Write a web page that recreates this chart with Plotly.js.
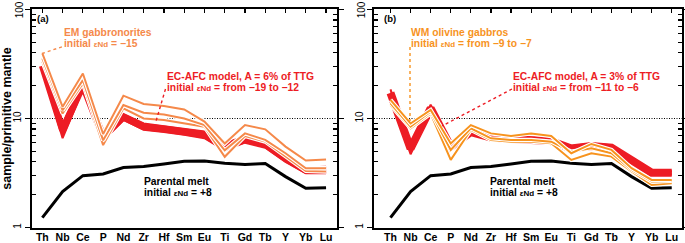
<!DOCTYPE html>
<html>
<head>
<meta charset="utf-8">
<script src="https://cdn.plot.ly/plotly-3.0.1.min.js"></script>
<style>
html,body{margin:0;padding:0;background:#fff;}
#chart{width:685px;height:243px;}
.toplabel{position:absolute;width:30px;height:12px;line-height:12px;text-align:center;
  font-family:'Liberation Sans',Arial,sans-serif;font-size:10px;color:#000;transform:rotate(-90deg);
  transform-origin:50% 50%;z-index:20;pointer-events:none;}
</style>
</head>
<body>
<div id="chart"></div>
<script>
// ---------- data ----------
const elements = ['Th','Nb','Ce','P','Nd','Zr','Hf','Sm','Eu','Ti','Gd','Tb','Y','Yb','Lu'];
const parentalMelt = [1.23, 2.14, 2.99, 3.1, 3.55, 3.62, 3.83, 4.05, 4.08, 3.88, 3.78, 3.86, 2.93, 2.29, 2.32];

// panel (a): EC-AFC model envelope (upper, centre, lower) and EM gabbronorites
const modelA_upper  = [33, 9.0, 22, 7.3, 11.0, 9.0, 8.5, 8.1, 7.6, 6.0, 6.8, 6.2, 4.6, 3.55, 3.6];
const modelA_center = [30.5, 7.8, 20.2, 6.8, 10.3, 8.4, 8.0, 7.6, 7.1, 5.5, 6.4, 5.8, 4.3, 3.35, 3.37];
const modelA_lower  = [28, 6.6, 18.5, 6.3, 9.7, 7.9, 7.5, 7.1, 6.6, 5.1, 6.0, 5.4, 4.0, 3.15, 3.15];
const emGabbro1 = [39.5, 12.8, 25.9, 7.2, 16.2, 13.6, 13.0, 12.1, 9.36, 5.9, 8.72, 7.95, 5.52, 4.12, 4.2];
const emGabbro2 = [35.6, 11.9, 22.5, 6.3, 13.3, 11.3, 10.9, 10.0, 8.7, 5.1, 7.3, 6.36, 4.8, 3.5, 3.5];
const emGabbro3 = [33.2, 11.1, 21.0, 5.7, 12.4, 10.0, 9.7, 9.03, 8.42, 4.45, 6.9, 6.13, 4.47, 3.3, 3.26];

// panel (b): EC-AFC model envelope and WM olivine gabbros
const modelB_upper  = [18.5, 5.9, 13.4, 5.8, 7.8, 7.0, 6.8, 6.6, 6.45, 5.6, 5.9, 5.7, 4.35, 3.3, 3.3];
const modelB_center = [17.2, 5.3, 12.4, 5.5, 7.5, 6.7, 6.5, 6.4, 6.2, 5.3, 5.6, 5.4, 4.15, 3.18, 3.18];
const modelB_lower  = [16.0, 4.7, 11.5, 5.2, 7.2, 6.4, 6.2, 6.15, 5.95, 5.05, 5.35, 5.15, 3.95, 3.05, 3.05];
const wmGabbro1 = [14.8, 9.0, 12.0, 5.9, 8.7, 7.3, 6.9, 7.3, 6.9, 4.8, 5.84, 5.15, 3.5, 2.73, 2.73];
const wmGabbro2 = [13.8, 8.4, 11.6, 5.15, 8.13, 6.58, 6.36, 6.36, 6.13, 4.97, 5.33, 4.8, 3.38, 2.64, 2.67];
const wmGabbro3 = [13.3, 8.13, 11.1, 4.17, 7.85, 6.36, 6.13, 6.13, 5.92, 4.17, 4.8, 4.47, 3.26, 2.46, 2.55];

const yTickVals = [1, 10, 100];
const yTickText = ['1', '10', ''];   // the top "100" label is placed as an overlay text
const yTopLabel = '100';
const yMinorVals = [2,3,4,5,6,7,8,9,20,30,40,50,60,70,80,90];

// ---------- styling ----------
const FONT = 'Liberation Sans, Arial, sans-serif';
const RED = '#ed1c24';
const ORANGE_A = '#f5894a';
const ORANGE_B = '#f7931e';
const W = 685, H = 243;
const idx = elements.map((_, i) => i);

function line(y, xa, color, width){
  return {x: idx, y: y, xaxis: xa, yaxis: 'y', mode: 'lines', line: {color: color, width: width},
          hoverinfo: 'skip', showlegend: false};
}
function cased(y, xa, color){
  return [line(y, xa, '#ffffff', 4.2), line(y, xa, color, 2)];
}
function band(lo, mid, hi, xa, w){
  return [
    {x: idx, y: lo, xaxis: xa, yaxis: 'y', mode: 'lines', line: {color: RED, width: 2}, hoverinfo: 'skip', showlegend: false},
    {x: idx, y: hi, xaxis: xa, yaxis: 'y', mode: 'lines', line: {color: RED, width: 2}, fill: 'tonexty', fillcolor: RED, hoverinfo: 'skip', showlegend: false},
    line(mid, xa, RED, w)
  ];
}
function yax(anchor, showTitle){
  const a = {type: 'log', range: [-0.002, 2.002], domain: [15.3/H, 1 - 9.3/H], anchor: anchor,
    tickvals: yTickVals, ticktext: yTickText, tickangle: -90, ticklabeloverflow: 'allow',
    ticks: 'outside', ticklen: 5, tickwidth: 1.5, tickcolor: '#000',
    minor: {tickvals: yMinorVals, ticks: 'inside', ticklen: 4, tickwidth: 1.2, tickcolor: '#000'},
    showline: true, linewidth: 2, linecolor: '#000', mirror: 'ticks',
    showgrid: false, zeroline: false, fixedrange: true,
    tickfont: {family: FONT, size: 10, color: '#000'}};
  if (showTitle) {
    a.title = {text: 'sample/primitive mantle', font: {family: FONT, size: 12.5, color: '#000', weight: 'bold'}, standoff: 5};
  }
  return a;
}
function xax(domain, range, anchor){
  return {domain: domain, range: range, anchor: anchor, tickvals: idx, ticktext: elements,
    ticks: '', showline: true, linewidth: 2, linecolor: '#000', mirror: true,
    showgrid: false, zeroline: false, fixedrange: true, ticklabelstandoff: -1,
    tickfont: {family: FONT, size: 10.5, color: '#000', weight: 'bold'}};
}
function xtop(over, domain, range){
  return {overlaying: over, side: 'top', domain: domain, range: range, anchor: 'y', tickvals: idx,
    ticks: 'inside', ticklen: 4, tickwidth: 1.2, tickcolor: '#000', showticklabels: false,
    showline: false, showgrid: false, zeroline: false, fixedrange: true};
}

const domA = [32/W, 337/W], rangeA = [-0.51, 14.54];
const domB = [374/W, 682/W], rangeB = [-0.82, 14.51];

const traces = [].concat(
  // panel a
  [line(parentalMelt, 'x', '#000', 3)],
  band(modelA_lower, modelA_center, modelA_upper, 'x', 7),
  cased(emGabbro3, 'x', ORANGE_A),
  cased(emGabbro2, 'x', ORANGE_A),
  cased(emGabbro1, 'x', ORANGE_A),
  // panel b
  [line(parentalMelt, 'x2', '#000', 3)],
  band(modelB_lower, modelB_center, modelB_upper, 'x2', 8),
  cased(wmGabbro3, 'x2', ORANGE_B),
  cased(wmGabbro2, 'x2', ORANGE_B),
  cased(wmGabbro1, 'x2', ORANGE_B),
  // dummy traces for top tick axes
  [{x: [0], y: [10], xaxis: 'x3', yaxis: 'y', mode: 'markers', marker: {opacity: 0}, hoverinfo: 'skip', showlegend: false},
   {x: [0], y: [10], xaxis: 'x4', yaxis: 'y', mode: 'markers', marker: {opacity: 0}, hoverinfo: 'skip', showlegend: false}]
);
// panel b traces need their own y axis
traces.forEach(t => { if (t.xaxis === 'x2' || t.xaxis === 'x4') t.yaxis = 'y2'; });

const eps = '<span style="font-size:8px">εNd</span>';
function ann(text, px, py, color, size){
  return {text: text, x: px / W, y: 1 - py / H, xref: 'paper', yref: 'paper', xanchor: 'left', yanchor: 'middle',
    showarrow: false, font: {family: FONT, size: size || 10.3, color: color, weight: 'bold'}};
}
function seg(x0, y0, x1, y1, color){
  return {type: 'line', xref: 'paper', yref: 'paper', x0: x0 / W, y0: 1 - y0 / H, x1: x1 / W, y1: 1 - y1 / H,
    line: {color: color, width: 1.4, dash: 'dot'}};
}
const dotted = {color: '#000', width: 1, dash: '1px,1.5px'};

const layout = {
  width: W, height: H, margin: {l: 0, r: 0, t: 0, b: 0},
  paper_bgcolor: '#fff', plot_bgcolor: '#fff', showlegend: false,
  xaxis: xax(domA, rangeA, 'y'),
  xaxis2: xax(domB, rangeB, 'y2'),
  xaxis3: xtop('x', domA, rangeA),
  xaxis4: Object.assign(xtop('x2', domB, rangeB), {anchor: 'y2'}),
  yaxis: yax('x', true),
  yaxis2: yax('x2', false),
  shapes: [
    {type: 'line', xref: 'x domain', yref: 'y', x0: 0, x1: 1, y0: 10, y1: 10, line: dotted, layer: 'below'},
    {type: 'line', xref: 'x2 domain', yref: 'y2', x0: 0, x1: 1, y0: 10, y1: 10, line: dotted, layer: 'below'},
    seg(42, 53.5, 63, 46.5, ORANGE_A),
    seg(165.5, 89, 155.5, 123, RED),
    seg(410, 47, 410, 121, ORANGE_B),
    seg(512, 89, 442, 126, RED)
  ],
  annotations: [
    ann('(a)', 35, 18.5, '#000', 9.5),
    ann('EM gabbronorites', 62, 32, ORANGE_A),
    ann('initial ' + eps + ' = −15', 62, 43.5, ORANGE_A),
    ann('EC-AFC model, A = 6% of TTG', 165, 76, RED),
    ann('initial ' + eps + ' = from −19 to −12', 165, 87.5, RED),
    ann('Parental melt', 142, 181, '#000'),
    ann('initial ' + eps + ' = +8', 142, 192.5, '#000'),
    ann('(b)', 382, 18.5, '#000', 9.5),
    ann('WM olivine gabbros', 409, 32, ORANGE_B),
    ann('initial ' + eps + ' = from −9 to −7', 409, 43.5, ORANGE_B),
    ann('EC-AFC model, A = 3% of TTG', 511, 76, RED),
    ann('initial ' + eps + ' = from −11 to −6', 511, 87.5, RED),
    ann('Parental melt', 488, 181, '#000'),
    ann('initial ' + eps + ' = +8', 488, 192.5, '#000')
  ]
};

Plotly.newPlot('chart', traces, layout, {staticPlot: true, displayModeBar: false}).then(() => {
  // top decade label of each y axis, placed at the axis' 100 level
  [[20, 'yaxis'], [362, 'yaxis2']].forEach(([cx, axName]) => {
    const ax = document.getElementById('chart')._fullLayout[axName];
    const cy = ax._offset + ax.l2p(Math.log10(100));
    const d = document.createElement('div');
    d.className = 'toplabel';
    d.textContent = yTopLabel;
    d.style.left = (cx - 15) + 'px';
    d.style.top = (cy - 6) + 'px';
    document.body.appendChild(d);
  });
});
</script>
</body>
</html>
